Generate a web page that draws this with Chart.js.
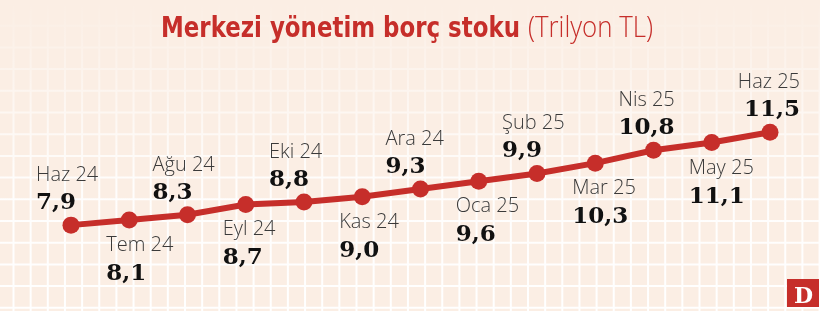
<!doctype html>
<html lang="tr">
<head>
<meta charset="utf-8">
<title>Merkezi yönetim borç stoku</title>
<script src="https://cdn.jsdelivr.net/npm/chart.js@4.4.1/dist/chart.umd.min.js"></script>
<style>
  html, body { margin: 0; padding: 0; background: #fbeee4; }
  canvas { display: block; }
</style>
</head>
<body>
<canvas id="debtChart" width="820" height="311"></canvas>
<script>
// data (trilyon TL)
var months = ['Haz 24', 'Tem 24', 'Ağu 24', 'Eyl 24', 'Eki 24', 'Kas 24', 'Ara 24',
              'Oca 25', 'Şub 25', 'Mar 25', 'Nis 25', 'May 25', 'Haz 25'];
var debt = [7.9, 8.1, 8.3, 8.7, 8.8, 9.0, 9.3, 9.6, 9.9, 10.3, 10.8, 11.1, 11.5];

var titleBold = 'Merkezi yönetim borç stoku';
var titleLight = '(Trilyon TL)';

var red = '#c62e2a';

// faded white grid paper behind everything
var gridBg = {
  id: 'gridBg',
  beforeDraw: function(chart) {
    var c = chart.ctx, w = chart.width, h = chart.height;
    c.save();
    c.fillStyle = '#fbeee4';
    c.fillRect(0, 0, w, h);
    var g = c.createLinearGradient(0, 0, 0, h);
    g.addColorStop(0, 'rgba(255,255,255,0.0)');
    g.addColorStop(0.3, 'rgba(255,255,255,0.45)');
    g.addColorStop(0.6, 'rgba(255,255,255,0.9)');
    g.addColorStop(1, 'rgba(255,255,255,1)');
    c.strokeStyle = g;
    c.lineWidth = 2;
    c.beginPath();
    for (var x = 13.5; x < w; x += 17.15) {
      c.moveTo(x, 0); c.lineTo(x, h);
    }
    for (var y = 4; y < h; y += 21.7) {
      c.moveTo(0, y); c.lineTo(w, y);
    }
    c.stroke();
    c.restore();
  }
};

// month + value labels, alternating above / below the points
var pointLabels = {
  id: 'pointLabels',
  afterDatasetsDraw: function(chart) {
    var c = chart.ctx;
    var pts = chart.getDatasetMeta(0).data;
    c.save();
    c.textBaseline = 'alphabetic';
    pts.forEach(function(p, i) {
      var above = (i % 2 === 0);
      var valTxt = debt[i].toFixed(1).replace('.', ',');
      var monthY = above ? p.y - 44 : p.y + 31;
      var valY = above ? p.y - 16 : p.y + 60;
      var last = (i === pts.length - 1);
      var x;
      if (last) {
        c.textAlign = 'right';
        x = p.x + 30;
      } else {
        c.textAlign = 'left';
        x = above ? p.x - 35 : p.x - 23;
      }
      c.font = '300 20px "Open Sans", sans-serif';
      c.fillStyle = '#3a3a3a';
      c.fillText(months[i], x, monthY);
      c.font = 'bold 23px "DejaVu Serif", serif';
      c.fillStyle = '#111';
      c.fillText(valTxt, x, valY);
    });
    c.restore();
  }
};

function fitText(c, txt, x, y, width) {
  var m = c.measureText(txt).width;
  c.save();
  c.translate(x, y);
  c.scale(width / m, 1);
  c.fillText(txt, 0, 0);
  c.restore();
}

// title and logo
var header = {
  id: 'header',
  afterDraw: function(chart) {
    var c = chart.ctx;
    c.save();
    c.textAlign = 'left';
    c.textBaseline = 'alphabetic';
    c.fillStyle = red;
    c.font = 'bold 29px "Liberation Sans Narrow", "DejaVu Sans Condensed", sans-serif';
    fitText(c, titleBold, 161, 37, 359);
    c.font = '300 29px "Open Sans", sans-serif';
    fitText(c, titleLight, 528, 37, 125);

    c.fillStyle = red;
    c.fillRect(787, 279, 32, 28);
    c.fillStyle = '#fff';
    c.textAlign = 'center';
    c.font = 'bold 22px "DejaVu Serif", serif';
    c.fillText('D', 803.5, 303);
    c.restore();
  }
};

var chart = new Chart(document.getElementById('debtChart'), {
  type: 'line',
  data: {
    labels: months,
    datasets: [{
      data: debt,
      borderColor: red,
      backgroundColor: red,
      borderWidth: 6,
      tension: 0,
      pointRadius: 8.5,
      pointHoverRadius: 8.5,
      pointBackgroundColor: red,
      pointBorderWidth: 0,
      clip: false
    }]
  },
  options: {
    responsive: false,
    animation: false,
    devicePixelRatio: 1,
    events: [],
    layout: { padding: { left: 71, right: 50, top: 16, bottom: 11 } },
    plugins: {
      legend: { display: false },
      tooltip: { enabled: false }
    },
    scales: {
      x: { display: false, offset: false },
      y: { display: false, min: 5, max: 16 }
    }
  },
  plugins: [gridBg, pointLabels, header]
});
</script>
</body>
</html>
